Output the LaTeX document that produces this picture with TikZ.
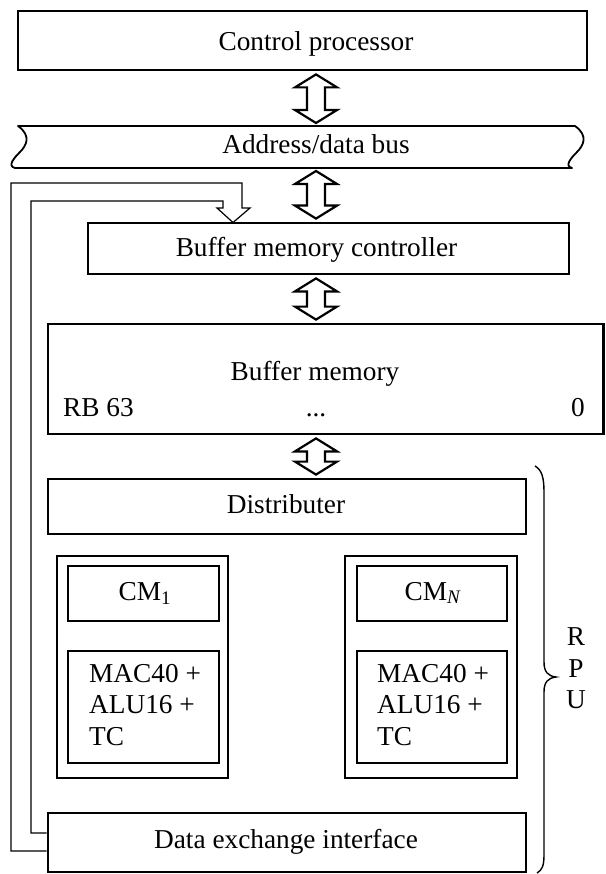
\documentclass[tikz,border=0pt]{standalone}
\usepackage{fontspec}
\setmainfont{Liberation Serif}
\usetikzlibrary{calc}
\tikzset{
  thickbox/.style={draw, line width=2.8pt, inner sep=0pt},
  thinbox/.style={draw, line width=1.1pt, inner sep=0pt},
  pipe/.style={line width=1.2pt, line join=miter},
  busline/.style={line width=1.8pt, line join=round},
  arrowline/.style={draw, fill=white, line width=2.2pt, line join=miter},
  txt/.style={inner sep=0pt, font=\fontsize{27.3}{31.5}\selectfont},
}
% hollow double-headed bus arrow between two points on a vertical axis
\newcommand\busarrow[2]{%
  \draw[arrowline] let \p1=(#1), \p2=(#2) in
    (\x1,\y1-3pt) -- (\x1+21pt,\y1-16pt) -- (\x1+9pt,\y1-16pt)
    -- (\x1+9pt,\y2+16pt) -- (\x1+21pt,\y2+16pt) -- (\x1,\y2+3pt)
    -- (\x1-21pt,\y2+16pt) -- (\x1-9pt,\y2+16pt)
    -- (\x1-9pt,\y1-16pt) -- (\x1-21pt,\y1-16pt) -- cycle;}
\begin{document}
\begin{tikzpicture}[x=1pt, y=-1pt]
\useasboundingbox (0,0) rectangle (605,874);

% blocks
\node[thickbox, minimum width=569pt, minimum height=59pt] (cp) at (302.5,40.5) {};
\node[thickbox, minimum width=481pt, minimum height=51pt] (bmc) at (328.5,248.5) {};
\node[thickbox, minimum width=555.5pt, minimum height=110pt] (bm) at (325.75,379) {};
\node[thickbox, minimum width=478pt, minimum height=55pt] (dist) at (287,506.5) {};
\node[thinbox, minimum width=171pt, minimum height=222pt] (cm1o) at (142.5,667) {};
\node[thickbox, minimum width=151pt, minimum height=55pt] (cm1) at (143.5,593.5) {};
\node[thickbox, minimum width=151pt, minimum height=112pt] (mac1) at (143.5,707) {};
\node[thinbox, minimum width=172pt, minimum height=222pt] (cmNo) at (431,667) {};
\node[thickbox, minimum width=150pt, minimum height=55pt] (cmN) at (432,593.5) {};
\node[thickbox, minimum width=150pt, minimum height=112pt] (macN) at (432,707) {};
\node[thickbox, minimum width=478pt, minimum height=59pt] (dei) at (287,842.5) {};

% address/data bus
\coordinate (busN) at (316,126);
\coordinate (busS) at (316,168);
\draw[busline] (18,126) -- (575,126)
  .. controls (589,136) and (583,146) .. (577,152)
  .. controls (571,158) and (564,166) .. (572,168)
  -- (15,168)
  .. controls (7,166) and (14,158) .. (20,152)
  .. controls (26,146) and (32,136) .. (18,126) -- cycle;

% bus arrows
\coordinate (axis) at (316,0);
\busarrow{axis |- cp.south}{busN}
\busarrow{busS}{axis |- bmc.north}
\busarrow{axis |- bmc.south}{axis |- bm.north}
\busarrow{axis |- bm.south}{axis |- dist.north}

% feedback path from the data exchange interface to the controller
\draw[pipe] ([yshift=-8.5pt]dei.west) -| (11,183) -| (242,208)
  -- (250,208) -- (233,222.5) -- (217,208) -- (223,208)
  |- (31,201) |- ([yshift=9.5pt]dei.west);

% RPU brace
\draw[line width=1.4pt] (535,466) .. controls (542,470) and (544,478) .. (544,492)
  -- (544,662) .. controls (544,672) and (548,676) .. (556,677)
  .. controls (548,678) and (544,682) .. (544,692)
  -- (544,855) .. controls (544,866) and (542,870) .. (537,873);

% labels
\node[txt, anchor=base] (tcp) at (316,51) {Control processor};
\node[txt, anchor=base] (tbus) at (316,154) {Address/data bus};
\node[txt, anchor=base] (tbmc) at (316.5,257) {Buffer memory controller};
\node[txt, anchor=base] (tbm) at (315,380) {Buffer memory};
\node[txt, anchor=base west] (trb) at (63,416) {RB 63};
\node[txt, anchor=base] (tdots) at (316,416) {...};
\node[txt, anchor=base east] (tzero) at (585,416) {0};
\node[txt, anchor=base] (tdist) at (286,513) {Distributer};
\node[txt, anchor=base] (tcm1) at (145,600) {CM\textsubscript{1}};
\node[txt, anchor=base] (tcmN) at (433,600) {CM\textsubscript{\textit{N}}};
\node[txt, anchor=base west] (tm1a) at (89,682) {MAC40 +};
\node[txt, anchor=base west] (tm1b) at (89,713) {ALU16 +};
\node[txt, anchor=base west] (tm1c) at (89,745) {TC};
\node[txt, anchor=base west] (tmNa) at (377,682) {MAC40 +};
\node[txt, anchor=base west] (tmNb) at (377,713) {ALU16 +};
\node[txt, anchor=base west] (tmNc) at (377,745) {TC};
\node[txt, anchor=base] (tdei) at (286,848) {Data exchange interface};
\node[txt, anchor=base] (tR) at (576,645) {R};
\node[txt, anchor=base] (tP) at (576,677) {P};
\node[txt, anchor=base] (tU) at (576,708) {U};
\end{tikzpicture}
\end{document}
